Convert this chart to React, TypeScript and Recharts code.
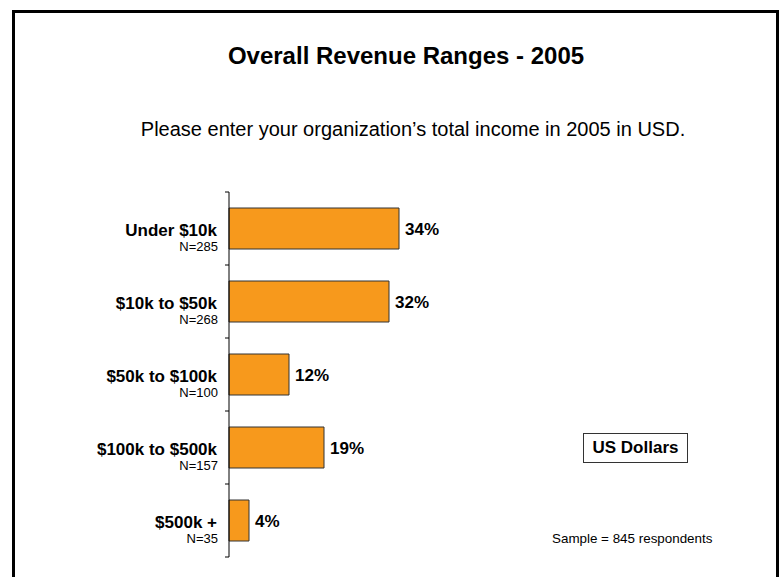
import { Bar, BarChart, LabelList, XAxis, YAxis } from 'recharts';

const categories = ['Under $10k', '$10k to $50k', '$50k to $100k', '$100k to $500k', '$500k +'];
const counts = ['N=285', 'N=268', 'N=100', 'N=157', 'N=35'];
const shares = [34, 32, 12, 19, 4];

const data = categories.map((name, i) => ({ name, n: counts[i], share: shares[i] }));

const font = 'Liberation Sans, Arial, sans-serif';

function CategoryTick(props: any) {
  const { x, y, payload, index } = props;
  const half = payload.offset || 36.5;
  const isLast = index === categories.length - 1;
  return (
    <g>
      <line x1={x - 4} x2={x} y1={y - half} y2={y - half} stroke="#000" />
      {isLast && <line x1={x - 4} x2={x} y1={y + half} y2={y + half} stroke="#000" />}
      <text x={x - 12} y={y + 7} textAnchor="end" fontSize={17} fontWeight="bold" fill="#000" fontFamily={font}>
        {payload.value}
      </text>
      <text x={x - 11} y={y + 22} textAnchor="end" fontSize={13} fill="#000" fontFamily={font}>
        {counts[index]}
      </text>
    </g>
  );
}

export default function App() {
  return (
    <div style={{ position: 'absolute', left: 0, top: 0, width: 783, height: 577, overflow: 'hidden', background: '#fff', fontFamily: font }}>
      <div style={{ position: 'absolute', left: 12, top: 10, width: 761, height: 600, border: '3px solid #000' }} />
      <div style={{ position: 'absolute', left: 0, width: 812, top: 42, textAlign: 'center', fontSize: 24, fontWeight: 'bold' }}>
        Overall Revenue Ranges - 2005
      </div>
      <div style={{ position: 'absolute', left: 0, width: 826, top: 118, textAlign: 'center', fontSize: 20 }}>
        Please enter your organization’s total income in 2005 in USD.
      </div>
      <div style={{ position: 'absolute', left: 583, top: 433, width: 103, height: 28, border: '1px solid #333', display: 'flex', alignItems: 'center', justifyContent: 'center', fontSize: 17, fontWeight: 'bold' }}>
        US Dollars
      </div>
      <div style={{ position: 'absolute', left: 552, top: 531, fontSize: 13.4 }}>Sample = 845 respondents</div>
      <div style={{ position: 'absolute', left: 0, top: 0 }}>
        <BarChart width={783} height={577} data={data} layout="vertical" margin={{ top: 192, right: 54, bottom: 20, left: 0 }}>
          <XAxis type="number" domain={[0, 100]} hide />
          <YAxis
            type="category"
            dataKey="name"
            width={229}
            tickSize={0}
            tickMargin={0}
            tickLine={false}
            axisLine={{ stroke: '#000' }}
            tick={<CategoryTick />}
            interval={0}
          />
          <Bar dataKey="share" barSize={41} fill="#F7991C" stroke="#333" strokeWidth={1} isAnimationActive={false}>
            <LabelList
              dataKey="share"
              position="right"
              offset={6}
              formatter={(v: any) => `${v}%`}
              style={{ fontSize: 17, fontWeight: 'bold', fill: '#000', fontFamily: font }}
            />
          </Bar>
        </BarChart>
      </div>
    </div>
  );
}
